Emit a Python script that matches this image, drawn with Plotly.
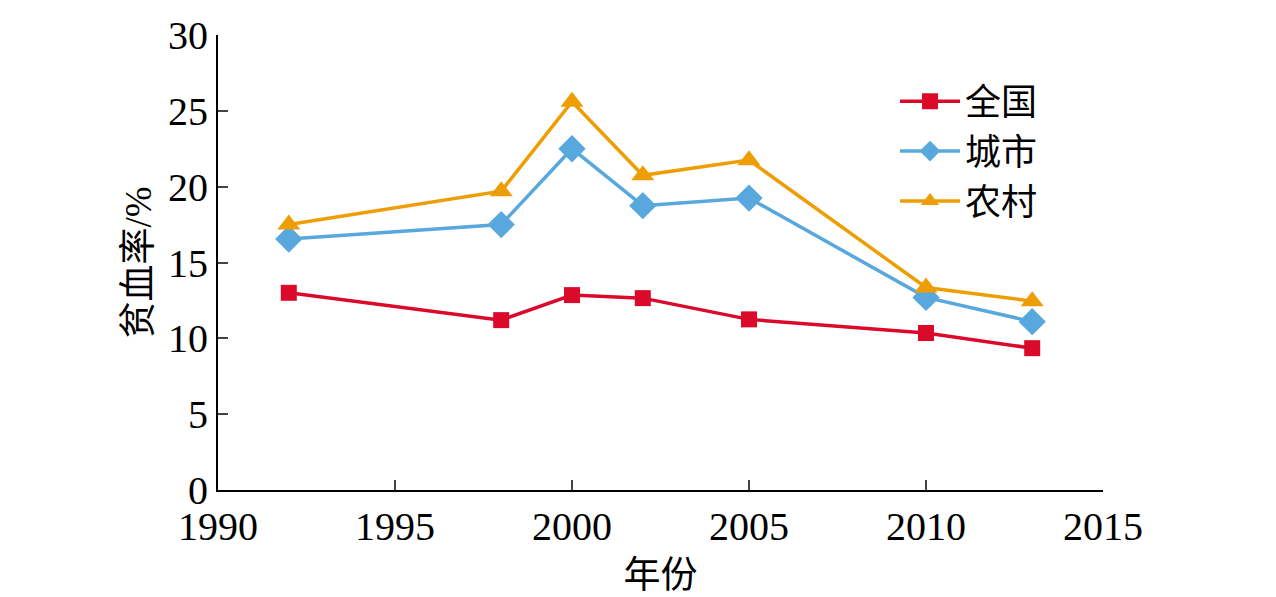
import plotly.graph_objects as go

years = [1992, 1998, 2000, 2002, 2005, 2010, 2013]
quanguo = [13.0, 11.2, 12.85, 12.65, 11.25, 10.35, 9.35]
chengshi = [16.55, 17.5, 22.5, 18.75, 19.25, 12.7, 11.1]
nongcun = [17.5, 19.7, 25.6, 20.75, 21.75, 13.35, 12.45]

xticks = [1990, 1995, 2000, 2005, 2010, 2015]
yticks = [0, 5, 10, 15, 20, 25, 30]

font_main = "Liberation Serif, Noto Sans CJK SC"

fig = go.Figure()
fig.add_trace(go.Scatter(x=years, y=quanguo, name='全国', mode='lines+markers',
                         line=dict(color='#DB0A2B', width=3.5),
                         marker=dict(symbol='square', size=16, color='#DB0A2B')))
fig.add_trace(go.Scatter(x=years, y=chengshi, name='城市', mode='lines+markers',
                         line=dict(color='#58A8DD', width=3.5),
                         marker=dict(symbol='diamond', size=21, color='#58A8DD')))
fig.add_trace(go.Scatter(x=years, y=nongcun, name='农村', mode='lines+markers',
                         line=dict(color='#EE9E05', width=3.5),
                         marker=dict(symbol='triangle-up', size=20, color='#EE9E05')))

# page body has an 8px margin, so margins are shifted to land the plot area where the reference has it
fig.update_layout(
    width=1276, height=597,
    margin=dict(l=210, r=181, t=27, b=115),
    plot_bgcolor='white', paper_bgcolor='white',
    font=dict(family=font_main, size=36, color='black'),
    legend=dict(x=0.765, y=0.92, xanchor='left', yanchor='top',
                bgcolor='rgba(0,0,0,0)', font=dict(size=36),
                itemwidth=60, tracegroupgap=0),
    showlegend=True,
)
fig.update_xaxes(range=[1990, 2015], tickvals=xticks, ticks='inside', ticklen=10,
                 tickwidth=2, showline=True, linecolor='black', linewidth=2,
                 showgrid=False, zeroline=False, automargin=False,
                 title=dict(text='年份', standoff=14, font=dict(size=37)),
                 tickfont=dict(size=40))
fig.update_yaxes(range=[0, 30], tickvals=yticks, ticks='inside', ticklen=10,
                 tickwidth=2, showline=True, linecolor='black', linewidth=2,
                 showgrid=False, zeroline=False, automargin=False,
                 title=dict(text='贫血率/%', standoff=5, font=dict(size=37)),
                 tickfont=dict(size=40))

fig.write_html("out.html")
